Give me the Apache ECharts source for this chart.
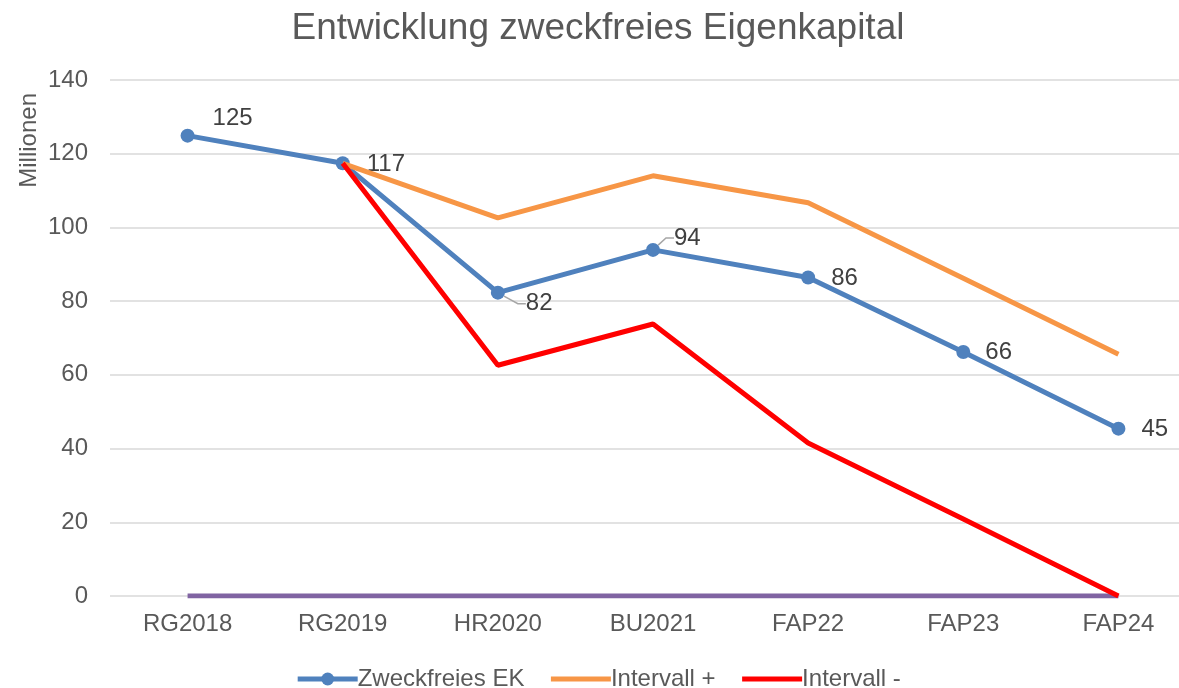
<!DOCTYPE html>
<html>
<head>
<meta charset="utf-8">
<script src="https://cdn.jsdelivr.net/npm/echarts@6/dist/echarts.min.js"></script>
<style>
  html, body { margin: 0; padding: 0; background: #fff; overflow: hidden; }
  #chart { width: 1196px; height: 688px; }
</style>
</head>
<body>
<div id="chart"></div>
<script>
const categories = ['RG2018', 'RG2019', 'HR2020', 'BU2021', 'FAP22', 'FAP23', 'FAP24'];
const ekValues = [124.9, 117.4, 82.3, 93.9, 86.4, 66.2, 45.4];
const plusValues = [null, 117.4, 102.6, 114.0, 106.7, 86.2, 65.6];
const minusValues = [null, 117.4, 62.6, 73.8, 41.5, 20.9, 0];
const baseValues = [0, 0, 0, 0, 0, 0, 0];
const yTicks = [0, 20, 40, 60, 80, 100, 120, 140];

// label shifts next to each point, like the Excel data labels
const labelShifts = [[13, -17], [12, 1], [16, 11], [9, -12], [11, 1], [10, 0], [11, 1]];
const withLeader = [false, false, true, true, false, false, false];

const textColor = '#595959';
const font = 'Liberation Sans, Arial, sans-serif';

const chartDom = document.getElementById('chart');
const myChart = echarts.init(chartDom);

const option = {
  animation: false,
  title: {
    text: 'Entwicklung zweckfreies Eigenkapital',
    left: 'center',
    top: 5,
    textStyle: { color: textColor, fontSize: 37, fontWeight: 'normal', fontFamily: font }
  },
  legend: {
    data: [
      { name: 'Zweckfreies EK' },
      { name: 'Intervall +', itemStyle: { opacity: 0 } },
      { name: 'Intervall -', itemStyle: { opacity: 0 } }
    ],
    top: 662,
    left: 'center',
    itemWidth: 60,
    itemHeight: 16,
    itemGap: 24,
    lineStyle: { width: 5 },
    textStyle: { color: textColor, fontSize: 24, fontFamily: font, padding: [0, 0, 0, -5] }
  },
  graphic: [{
    type: 'text',
    left: 17,
    top: 93,
    rotation: Math.PI / 2,
    style: { text: 'Millionen', fill: textColor, fontSize: 24, fontFamily: font }
  }],
  grid: { left: 110, right: 0, top: 80, bottom: 92 },
  xAxis: {
    type: 'category',
    data: categories,
    boundaryGap: true,
    axisLine: { show: false },
    axisTick: { show: false },
    axisLabel: { color: textColor, fontSize: 24, fontFamily: font, margin: 16 }
  },
  yAxis: {
    type: 'value',
    min: yTicks[0],
    max: yTicks[yTicks.length - 1],
    interval: 20,
    axisLine: { show: false },
    axisTick: { show: false },
    axisLabel: { color: textColor, fontSize: 24, fontFamily: font, margin: 22 },
    splitLine: { lineStyle: { color: '#d9d9d9', width: 1.5 } }
  },
  series: [
    {
      name: 'Zweckfreies EK',
      type: 'line',
      data: ekValues.map((v, i) => ({
        value: v,
        labelLine: { show: withLeader[i] }
      })),
      color: '#4f81bd',
      symbol: 'circle',
      symbolSize: 14,
      lineStyle: { width: 5, color: '#4f81bd' },
      itemStyle: { color: '#4f81bd' },
      z: 2,
      label: {
        show: true,
        position: 'right',
        distance: 5,
        color: '#404040',
        fontSize: 24,
        fontFamily: font,
        formatter: p => Math.round(p.value)
      },
      labelLine: {
        show: false,
        length2: 8,
        lineStyle: { color: '#a6a6a6', width: 1.5 }
      },
      labelLayout: p => ({ dx: labelShifts[p.dataIndex][0], dy: labelShifts[p.dataIndex][1] })
    },
    {
      name: 'Intervall +',
      type: 'line',
      data: plusValues,
      color: '#f79646',
      symbol: 'none',
      lineStyle: { width: 5, color: '#f79646' },
      z: 3
    },
    {
      name: 'Intervall -',
      type: 'line',
      data: minusValues,
      color: '#ff0000',
      symbol: 'none',
      lineStyle: { width: 5, color: '#ff0000' },
      z: 4
    },
    {
      name: 'Basis',
      type: 'line',
      data: baseValues,
      color: '#8064a2',
      symbol: 'none',
      lineStyle: { width: 5, color: '#8064a2' },
      z: 3
    }
  ]
};

option && myChart.setOption(option);
</script>
</body>
</html>
